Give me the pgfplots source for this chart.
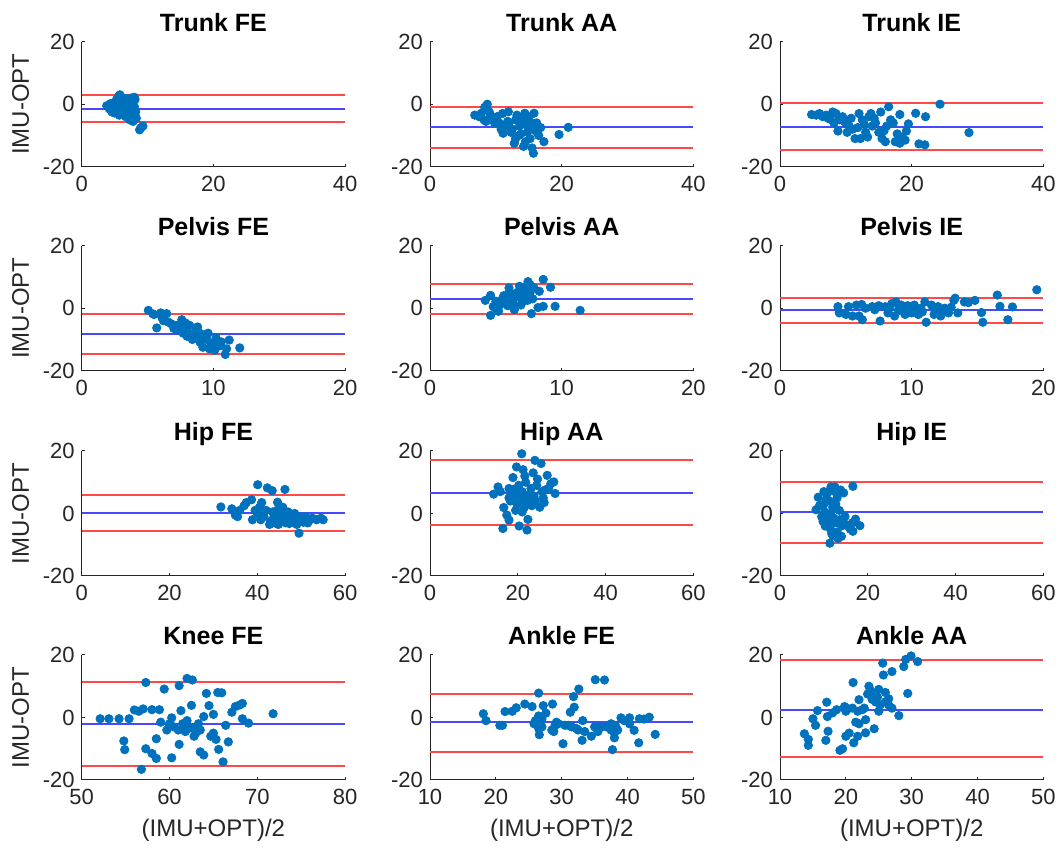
\documentclass[border=0pt]{standalone}
\usepackage{fontspec}
\setmainfont{Liberation Sans}
\usepackage{pgfplots}
\pgfplotsset{compat=1.18}
\definecolor{mblue}{HTML}{0072BD}
\definecolor{axgray}{HTML}{262626}
\definecolor{lred}{HTML}{FF4848}
\definecolor{lblue}{HTML}{4848FF}

\pgfplotsset{
  ba/.style={
    scale only axis, width=131.7pt, height=62.5pt, anchor=south west,
    axis x line*=bottom, axis y line*=left,
    axis line style={-,draw=axgray,line width=0.5pt},
    tick align=inside, major tick length=1.5pt,
    every tick/.style={draw=axgray,line width=0.5pt},
    ymin=-20, ymax=20, ytick={-20,0,20}, yticklabels={-20,0,20},
    /pgf/number format/assume math mode=true,
    tick label style={font=\fontsize{11}{12}\selectfont, text=axgray},
    xticklabel style={yshift=-1.2pt},
    title style={font=\bfseries\fontsize{12.5}{14}\selectfont, at={(0.5,1)}, anchor=base, yshift=-1pt},
    label style={font=\fontsize{12}{14}\selectfont, text=axgray},
    clip=false,
  },
  pts/.style={only marks, mark=*, mark size=2.1pt, color=mblue},
  loa/.style={draw=lred, line width=1pt, mark=none},
  mn/.style={draw=lblue, line width=1pt, mark=none},
}

\begin{document}
\begin{tikzpicture}
\path[use as bounding box] (0,0) rectangle (531pt,426pt);

% ---------- row 1 ----------
\begin{axis}[ba, at={(40.85pt,342.65pt)}, xmin=0, xmax=40, xtick={0,20,40}, title={Trunk FE}, ylabel={IMU-OPT}]
\addplot[pts] coordinates {(3.8,-0.5) (4.2,-1.5) (4.5,-0.8) (4.6,-2.5) (5.0,0.5) (5.2,-1.0) (5.3,1.5) (5.5,-2.0) (5.6,2.5) (5.8,3.0) (5.9,0.0) (6.0,-3.0) (6.1,1.0) (6.2,-1.5) (6.3,2.0) (6.4,-0.5) (6.5,-2.5) (6.6,0.8) (6.7,-4.0) (6.8,1.8) (6.9,-1.0) (7.0,-3.5) (7.1,0.3) (7.2,-2.0) (7.3,-5.0) (7.5,-1.2) (7.6,2.0) (7.7,-3.0) (7.8,-5.5) (8.0,-4.0) (8.1,1.5) (8.2,-2.5) (8.3,-4.5) (4.8,-1.8) (5.4,-0.2) (5.7,-3.5) (6.0,1.8) (6.3,-2.8) (6.6,-1.2) (7.0,1.2) (7.4,-0.5) (8.0,-0.8) (8.0,2.2) (9.0,-7.5) (9.3,-7.0) (8.8,-8.2) (5.0,-2.8) (6.8,-3.8) (7.8,-4.8) (4.4,0.2)};
\addplot[loa] coordinates {(0,2.8) (40,2.8)};
\addplot[mn] coordinates {(0,-1.65) (40,-1.65)};
\addplot[loa] coordinates {(0,-5.8) (40,-5.8)};
\end{axis}

\begin{axis}[ba, at={(215pt,342.65pt)}, xmin=0, xmax=40, xtick={0,20,40}, title={Trunk AA}]
\addplot[pts] coordinates {(6.8,-3.5) (7.5,-4) (8.2,-5) (8.5,-5.5) (8.7,0) (8.6,-1.5) (9,-2.5) (9.5,-4) (10,-5) (10.5,-6) (11,-3) (11.5,-7) (11.1,-9.3) (11.9,-2.4) (12.5,-8) (13,-5) (13.5,-10) (14.4,-2.9) (14.5,-12) (15,-8) (15.5,-6) (15.8,-2.9) (15.7,-15.7) (15.5,-14) (14.2,-13.5) (16.5,-10) (16.8,-7.5) (17.3,-12) (19.6,-9.7) (21,-7.4) (10.2,-4) (10.8,-8) (12,-6) (12.3,-9) (13,-11) (13.6,-7) (14,-5) (14.8,-9) (15.2,-11) (13.2,-3.5) (11.8,-5.5) (9.8,-6) (12.8,-12.5) (14.5,-6.5) (16,-8.5) (15,-4) (16.2,-6) (13.8,-9.5) (11.3,-6.8) (9.2,-3.8) (7.8,-2.9) (8.3,-1)};
\addplot[loa] coordinates {(0,-0.8) (40,-0.8)};
\addplot[mn] coordinates {(0,-7.2) (40,-7.2)};
\addplot[loa] coordinates {(0,-13.9) (40,-13.9)};
\end{axis}

\begin{axis}[ba, at={(390pt,342.65pt)}, xmin=0, xmax=40, xtick={0,20,40}, title={Trunk IE}]
\addplot[pts] coordinates {(24.3,0) (16.5,-0.8) (28.7,-9.1) (22,-13) (21.1,-12.7) (20.6,-2.9) (22.1,-4) (19.5,-6.3) (19.2,-8.6) (18.2,-12.5) (17.5,-12) (18.2,-3.3) (4.8,-3.3) (5.5,-3.5) (6,-3) (6.5,-4) (7,-3.5) (7.3,-4.5) (8,-2.5) (8.5,-3) (9,-5) (8.8,-8.6) (9.5,-4) (10,-6) (10.5,-7) (11,-8) (11.4,-11) (12,-3) (12.5,-5) (13,-9) (13.3,-10.5) (13.8,-3) (14,-7) (14.5,-6) (15,-9) (15.3,-2.5) (15.5,-11) (16,-12) (16.2,-7) (16.8,-5) (17.2,-6) (11.8,-7.5) (10.8,-4.5) (12.8,-6.5) (14.3,-4.5) (9.8,-5.5) (8.2,-6) (7.6,-4.8) (10.2,-9) (15.8,-8.5) (13.5,-4) (12.2,-11) (17.8,-9.5) (18.5,-10.5) (19,-11.5)};
\addplot[loa] coordinates {(0,0.5) (40,0.5)};
\addplot[mn] coordinates {(0,-7.2) (40,-7.2)};
\addplot[loa] coordinates {(0,-14.5) (40,-14.5)};
\end{axis}

% ---------- row 2 ----------
\begin{axis}[ba, at={(40.85pt,240.65pt)}, xmin=0, xmax=20, xtick={0,10,20}, title={Pelvis FE}, ylabel={IMU-OPT}]
\addplot[pts] coordinates {(5.06,-0.7) (5.5,-2) (6,-1.5) (6.45,-1.75) (5.7,-6.3) (6.2,-4) (6.8,-5) (7.2,-5.5) (7.6,-3.7) (7.5,-6) (7.7,-8) (8,-7) (8.2,-5.5) (8.5,-8.5) (8.7,-7) (9,-9) (9,-11) (9.3,-8.5) (9.5,-10) (9.8,-12) (10,-11) (10.2,-9.5) (10.5,-12) (10.9,-14.8) (11.2,-10.2) (11,-13) (12,-12.7) (8,-9) (7,-6.5) (6.6,-4.5) (7.9,-4.8) (8.8,-6) (9.6,-8) (10.3,-11.5) (9.2,-12.5) (8.4,-10) (10.6,-10.8) (5.4,-1.8) (6.1,-3) (7.3,-7) (8.1,-8) (9.7,-13) (9.4,-9.8) (7.8,-6.6) (8.9,-7.8) (10.1,-13.5)};
\addplot[loa] coordinates {(0,-1.75) (20,-1.75)};
\addplot[mn] coordinates {(0,-8.4) (20,-8.4)};
\addplot[loa] coordinates {(0,-14.8) (20,-14.8)};
\end{axis}

\begin{axis}[ba, at={(215pt,240.65pt)}, xmin=0, xmax=20, xtick={0,10,20}, title={Pelvis AA}]
\addplot[pts] coordinates {(4.2,2.5) (4.6,4.1) (4.6,-2.3) (5,0) (5.3,1) (5.5,3) (5.8,2) (6,5) (6,6.5) (6.3,1.5) (6.5,3.5) (6.8,4.5) (7,6) (7,2) (7.3,7) (7.44,8.5) (7.6,5) (7.8,3) (7.7,-1.75) (8.2,0.2) (8.6,0.6) (8.3,5.4) (8.6,9.2) (9.15,6.7) (9.5,0.6) (11.4,-0.7) (5.2,-1) (5.6,4) (6.2,3) (6.6,5) (7.2,4) (7.4,2.5) (6.8,7) (5.9,0.8) (6.4,-0.5) (7.9,6.5) (5.0,2.2) (4.8,0.5) (6.1,1) (7.1,3.2) (6.9,1) (5.4,1.5) (7.6,7.5) (6.3,4.2)};
\addplot[loa] coordinates {(0,7.8) (20,7.8)};
\addplot[mn] coordinates {(0,2.8) (20,2.8)};
\addplot[loa] coordinates {(0,-1.75) (20,-1.75)};
\end{axis}

\begin{axis}[ba, at={(390pt,240.65pt)}, xmin=0, xmax=20, xtick={0,10,20}, title={Pelvis IE}]
\addplot[pts] coordinates {(4.4,0.5) (4.5,-1.5) (5,-2) (5.2,0.5) (5.5,-2.5) (5.8,1) (6,-2.5) (6.2,1.2) (6.25,-3.7) (6.5,0) (7,0.5) (7.2,-0.5) (7.5,0.8) (7.6,-4.1) (8,0.5) (8.2,-1.5) (8.5,1.5) (8.8,2) (9,-0.5) (9.2,1) (9.5,-2) (9.8,0) (10,-1.5) (10.2,1) (10.5,-2) (10.7,0) (11,2) (11.1,-4.5) (11.5,1) (11.8,-1) (12,0.5) (12.2,-2.5) (12.5,0) (12.8,-1.5) (13,0.3) (13.2,2.5) (13.3,3.2) (13.5,-1.5) (14,2) (14.3,1.8) (14.8,2.5) (15.3,-1.4) (15.4,-4.5) (16.5,4.2) (16.7,0.6) (17.3,-3.7) (17.65,0.4) (19.5,5.9) (9.3,-1) (10.3,-0.5) (11.7,-2) (10.8,-1.2) (8.7,-2.5) (9.7,0.8) (12.4,-1) (8.3,0)};
\addplot[loa] coordinates {(0,3.2) (20,3.2)};
\addplot[mn] coordinates {(0,-0.7) (20,-0.7)};
\addplot[loa] coordinates {(0,-4.8) (20,-4.8)};
\end{axis}

% ---------- row 3 ----------
\begin{axis}[ba, at={(40.85pt,138pt)}, xmin=0, xmax=60, xtick={0,20,40,60}, title={Hip FE}, ylabel={IMU-OPT}]
\addplot[pts] coordinates {(31.7,2.1) (34.2,1.5) (35,-0.5) (35.5,-1) (36,1) (37,2.5) (37.5,3.5) (38.7,4.4) (38.9,-2) (40.1,9.2) (40,0) (40.5,2) (41,3.5) (41.5,-1) (42,1) (42.3,8.2) (43.4,7.3) (43,-2.5) (43.5,0.5) (44.6,3.6) (44,-3) (44.5,1) (45,-1.5) (45.5,0) (46.3,7.7) (46,-2) (46.5,-3) (47,0.5) (47.5,-1) (48,-2.5) (48.5,0) (49,-3.5) (49.5,-6.3) (49.5,-1) (50,-2) (51,-1) (51.5,-3) (52,-2) (52.5,-1.5) (53.5,-2) (54.5,-1.5) (55,-2) (40.8,-2) (42.8,-3.5) (44.8,-3.5) (47.3,-3.2) (45.8,2) (41.2,0.5) (43.8,-1) (39.5,1) (46.8,-1.8) (48.2,-0.5) (50.5,-2.8)};
\addplot[loa] coordinates {(0,5.95) (60,5.95)};
\addplot[mn] coordinates {(0,0) (60,0)};
\addplot[loa] coordinates {(0,-5.5) (60,-5.5)};
\end{axis}

\begin{axis}[ba, at={(215pt,138pt)}, xmin=0, xmax=60, xtick={0,20,40,60}, title={Hip AA}]
\addplot[pts] coordinates {(14.5,6.2) (15.5,8.5) (16,7) (16.8,1.9) (16.6,-4.8) (17.5,-0.5) (18,5) (18,8) (18,-2.1) (18.9,11.5) (19.5,1) (19.7,14.9) (20.5,4) (20.3,-4) (20.9,19.1) (21,7) (21.2,14) (21.5,2) (21.8,10) (22,5) (22.1,-5.3) (22.3,-1.9) (23,8) (23.5,13) (24,4) (23.9,17) (24.5,11) (25,2) (25.3,16) (25.5,7) (26,3.5) (26.7,12.2) (27,8) (27.5,9.5) (28.2,10.1) (28.5,6.4) (19,5.5) (19.8,3) (21,0.5) (22.8,6) (23.2,2.5) (24.3,9) (25.8,5) (20.2,9) (21.6,12) (23.7,5.5) (18.3,4) (19.2,7.8) (26.2,7.5) (22.2,3.5) (20.7,6)};
\addplot[loa] coordinates {(0,17) (60,17)};
\addplot[mn] coordinates {(0,6.7) (60,6.7)};
\addplot[loa] coordinates {(0,-3.7) (60,-3.7)};
\end{axis}

\begin{axis}[ba, at={(390pt,138pt)}, xmin=0, xmax=60, xtick={0,20,40,60}, title={Hip IE}]
\addplot[pts] coordinates {(8.2,1.2) (8.7,5.2) (9.5,-1) (10,7) (10,3) (10.5,-2) (10.8,6.5) (11.6,8.5) (11.2,4) (11.5,0) (11.5,-5) (11.35,-9.5) (12,-7) (12,2) (12.5,7) (12.8,-3) (13,5) (13,-6) (13.5,1) (13.8,7.5) (14,-4) (14,-7.3) (14.5,6.6) (14.8,-1) (15,-3.5) (15.5,-4) (16,-5) (16.5,-3) (17.2,-1.8) (18.2,-3.9) (16.6,8.7) (16.6,-5.7) (9,2.5) (10.2,0.5) (10.6,4.5) (11,-3) (12.3,-1.5) (12.7,3) (13.2,-8) (10.3,-4) (11.8,-6.5) (13.6,-2) (12.5,8.5) (9.8,-2.5)};
\addplot[loa] coordinates {(0,10.1) (60,10.1)};
\addplot[mn] coordinates {(0,0.4) (60,0.4)};
\addplot[loa] coordinates {(0,-9.3) (60,-9.3)};
\end{axis}

% ---------- row 4 ----------
\begin{axis}[ba, at={(40.85pt,36pt)}, xmin=50, xmax=80, xtick={50,60,70,80}, title={Knee FE}, ylabel={IMU-OPT}, xlabel={(IMU+OPT)/2}]
\addplot[pts] coordinates {(52.1,-0.4) (53.1,-0.4) (54.25,-0.4) (55.4,-0.4) (54.8,-7.5) (54.9,-10.3) (56,2.4) (56.5,2) (57,2.75) (56.8,-16.6) (57.3,11.2) (57.3,-10) (58,-11.5) (58.5,-13.1) (58,2.5) (58.5,-6.8) (58.85,2.5) (59.4,9.1) (59,-1.5) (60,-2) (60.5,-3) (60.25,-0.1) (60.25,-12.9) (61,-4) (61.1,10.2) (61.3,2.2) (61.1,-8.6) (61.5,-2) (62,-1) (62,12.5) (62.6,12) (62.5,3.9) (63,-3) (63,-5) (63.5,-4) (63.5,-11) (63.9,-12) (63.9,0.3) (64.2,7.7) (64.5,3.8) (65,1) (65,-5) (65.5,8) (65.3,-7) (65.6,-10.2) (65.95,7.9) (66.1,-14.2) (66.4,-2.5) (66.7,-7.8) (67.1,1.7) (67.5,3.5) (68,4) (68.3,4.5) (68.3,-0.4) (69,-1.8) (71.8,1.2) (60,-2.5) (61.8,-4.5) (63.3,-2) (62.8,-6) (64.7,-6) (59.7,-4) (62.2,-3.5)};
\addplot[loa] coordinates {(50,11.5) (80,11.5)};
\addplot[mn] coordinates {(50,-2) (80,-2)};
\addplot[loa] coordinates {(50,-15.6) (80,-15.6)};
\end{axis}

\begin{axis}[ba, at={(215pt,36pt)}, xmin=10, xmax=50, xtick={10,20,30,40,50}, title={Ankle FE}, xlabel={(IMU+OPT)/2}]
\addplot[pts] coordinates {(18.1,1.2) (18.5,-1) (20.6,-2.5) (21,-2.5) (21.4,1.9) (22.5,2) (23.1,3.1) (24.4,4.3) (25.5,3.5) (26,-1) (26.5,7.8) (26.5,0.5) (26.5,-3.5) (26.6,-5.5) (27,-3) (27.2,3.8) (27.6,1.4) (28.6,4.3) (28.5,-4) (29,-2.5) (29.5,-2) (30.2,-8.4) (31,-2.5) (31.5,-3) (31.3,1.7) (31.9,3.3) (31.8,6.7) (32.6,9.1) (32.5,-4) (33.1,-7.3) (33.2,-1) (34.5,-6) (35,-3) (35.1,12.1) (35.8,-3) (36.5,12) (36.8,-3) (37.5,-4) (37.7,-10.3) (37.5,-2) (38,-5) (38,-6.5) (38.5,-4) (39,-0.1) (40.3,-0.1) (40.3,-2) (41,-4.1) (41.7,-8.1) (41.8,-0.4) (42.5,-0.5) (43.3,0.1) (44.2,-5.4) (25.8,-2) (27,-0.5) (28.8,-4.5) (30.5,-2.5) (32.2,-3.5) (35.5,-4.5) (36,-3) (38.2,-2.8) (39.5,-1) (29.2,-1.5) (33.5,-4.5)};
\addplot[loa] coordinates {(10,7.5) (50,7.5)};
\addplot[mn] coordinates {(10,-1.5) (50,-1.5)};
\addplot[loa] coordinates {(10,-11) (50,-11)};
\end{axis}

\begin{axis}[ba, at={(390pt,36pt)}, xmin=10, xmax=50, xtick={10,20,30,40,50}, title={Ankle AA}, xlabel={(IMU+OPT)/2}]
\addplot[pts] coordinates {(13.7,-5.2) (14.3,-8.9) (14.3,-7) (15,-0.4) (15.4,-2.5) (15.7,2.2) (17.1,4.9) (17.2,0.3) (17.3,-4.4) (16.96,-7.3) (18.6,2.5) (19.1,-10.5) (19.5,-10) (19.8,3.5) (20,2) (20,-6) (20.5,-5) (21.2,-8.1) (21,3) (21.1,11.2) (21.5,-1.5) (21.8,-6) (22,5.7) (22,-2) (22.5,2.5) (23,-4.9) (23,-0.7) (23.5,10) (24,7) (24.5,5) (24.3,-3.6) (25,2) (25,9) (25.6,17.4) (25.7,13.6) (26,8) (26.5,6) (26.5,4) (27,3) (27,14.7) (28.05,0.6) (29.4,7.7) (28.8,16.3) (29.1,18.6) (29.9,19.7) (30.9,17.9) (20.3,2.8) (21.8,2) (23.3,7.5) (24,5.8) (25.2,4) (22.8,3) (26,5) (24.8,6.5) (18,1.5) (23.8,8.5)};
\addplot[loa] coordinates {(10,18.3) (50,18.3)};
\addplot[mn] coordinates {(10,2.5) (50,2.5)};
\addplot[loa] coordinates {(10,-12.8) (50,-12.8)};
\end{axis}
\end{tikzpicture}
\end{document}
